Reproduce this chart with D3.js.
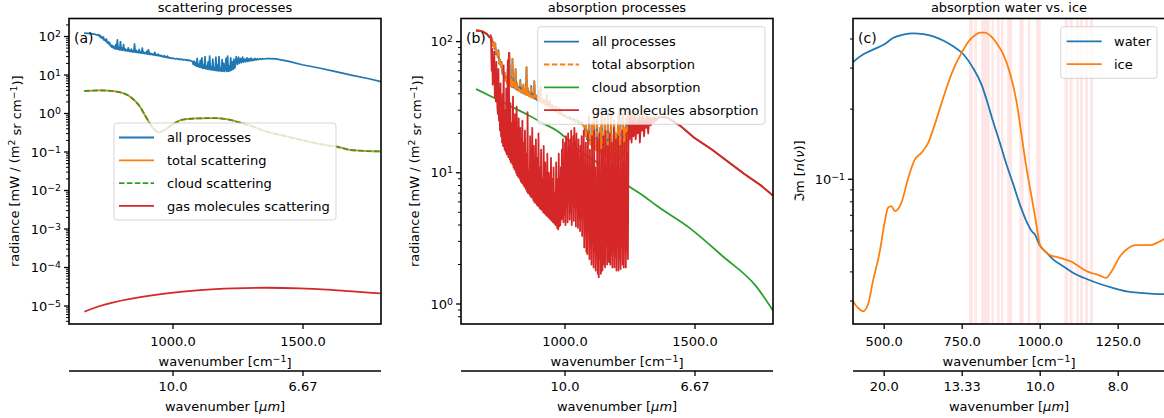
<!DOCTYPE html>
<html><head><meta charset="utf-8">
<script src="https://cdn.jsdelivr.net/npm/d3@7"></script>
<style>body{margin:0;background:#fff} text{font-family:"DejaVu Sans",sans-serif;fill:#000}</style>
</head><body><svg id="c" width="1164" height="418"></svg>
<script>
// ---------------- DATA ----------------
const allProcesses = [
[658,123],[670,121],[685,119],[700,114],[709,108],
[714,112],[717,100],[720,106],[723,93],[726,99],[729,88],[732,97],[735,80],[738,84],[741,76],[744,86],[747,68],[750,73],[753,64],[756,70],[759,57],[762,60],[765,53],[768,58],[771,50],[774,54],[777,48],[780,62],[783,47],[786,82],[789,46],[792,52],[795,45],[798,74],[801,44.5],[804,50],[807,44],[810,62],[813,43],[816,48],[819,42.5],[822,45],[825,42],[828,51],[831,41],[834,44],[837,40.5],[840,47],[843,40],[846,42],[849,39.5],[852,64],[855,39],[858,44],[861,38.5],[864,41],[867,38],[870,46],[873,37.5],[876,40],[879,37],[882,50],[885,36.5],[888,39],[891,36],[894,38],[897,35.5],[900,42],[903,35],[906,45],[909,34.5],[912,37],[915,34],[918,36],[921,33.5],[924,35],[927,33],[930,39],[933,32.5],[936,34],[939,32],[942,35],[945,31.5],[948,33],[951,31],[954,32.5],[957,30],[960,31],[963,29.5],[966,32],[969,29],[972,30],[975,28.5],[978,31],[981,28],[984,29],[987,27.5],[990,28],[995,27],[1000,27.5],[1005,26.5],[1010,26],[1015,26.8],[1020,25.5],[1025,26.2],[1030,25],[1035,25.8],[1040,24.5],[1045,25.2],[1050,24],[1055,24.8],[1060,23.5],[1065,24.2],[1070,23],[1075,22.5],
[1078,19],[1081,23],[1084,18],[1087,21],[1090,17],[1093,27],[1096,16.5],[1099,19],[1102,16],[1105,24],[1108,15.5],[1111,28],[1114,15],[1117,18],[1120,14.8],[1123,30],[1126,14.5],[1129,17],[1132,14.2],[1135,22],[1138,14],[1141,31],[1144,13.8],[1147,16],[1150,13.5],[1153,26],[1156,13.3],[1159,15],[1162,13.2],[1165,29],[1168,13],[1171,18],[1174,12.8],[1177,30],[1180,12.7],[1183,15],[1186,12.6],[1189,25],[1192,12.5],[1195,20],[1198,12.4],[1201,14],[1204,27],[1207,12.3],[1210,31],[1213,12.5],[1216,17],[1219,12.8],[1222,28],[1225,13.3],[1228,22],[1231,14],[1234,26],[1237,15],[1240,18],[1243,30],
[1248,19],[1252,29],[1256,20],[1260,27],[1264,21],[1268,29],[1272,21.5],[1276,26],[1280,22],[1284,28],[1288,22.5],[1292,26.5],[1296,23],[1300,27.5],[1304,23.5],[1308,26],[1312,24],[1316,27],[1320,24.5],[1325,26.5],[1330,25],[1335,26.5],[1340,25.5],[1345,26.5],[1350,26],[1360,26.8],[1370,26.6],
[1395,26.3],[1446,22.6],[1497,18.5],[1562,15.2],[1626,12.2],[1690,9.8],[1754,8.0],[1800,6.7]];

const cloudScattering = [[659,3.84],[719,4.0],[783,3.69],[835,2.74],[873,1.50],[899,0.75],[924,0.41],[947,0.324],[976,0.41],[1001,0.53],[1033,0.68],[1053,0.72],[1104,0.75],[1155,0.76],[1206,0.71],[1258,0.58],[1309,0.455],[1360,0.337],[1420,0.27],[1480,0.215],[1540,0.175],[1590,0.15],[1630,0.137],[1681,0.113],[1745,0.106],[1796,0.104]];
const totalScattering = cloudScattering;
const gasScattering = [[659,7.1e-6],[719,1.0e-5],[847,1.58e-5],[976,2.14e-5],[1104,2.6e-5],[1232,2.88e-5],[1360,2.98e-5],[1488,2.88e-5],[1617,2.6e-5],[1796,2.14e-5]];

const totalAbsorption = allProcesses;
const cloudAbsorption = [[658,43.5],[728,37.2],[792,32.1],[856,27.7],[920,23.6],[972,20.7],[1010,17.9],[1049,15.0],[1087,13.3],[1126,11.9],[1177,9.95],[1241,8.0],[1305,6.6],[1353,5.6],[1481,3.77],[1609,2.29],[1737,1.35],[1800,0.89]];
const gasAbsorption = [
[658,120],[670,121],[685,119],[700,114],[709,108],[714,110],
[716,98],[718,60],[720,88],[722,47],[724,72],[726,52],[728,84],[730,38],[732,55],[734,35],[736,70],[738,44],[740,31],[742,28],[744,62],[746,25],[748,36],[750,21],[752,48],[754,19],[756,24],[758,17],[760,40],[762,16],[764,66],[766,18],[768,15],[770,30],[772,14.5],[774,44],[776,13.8],[778,20],[780,72],[782,13.2],[784,82],[786,16],[788,12.6],[790,34],[792,12],[794,24],[796,13],[798,11.6],[800,38],[802,11],[804,18],[806,10.6],[808,28],[810,12.5],[812,10],[814,32],[816,9.6],[818,15],[820,9.3],[822,26],[824,11],[826,9],[828,22],[830,8.6],[832,13],[834,8.4],[836,25],[838,10],[840,8.1],[842,17],[844,7.8],[846,21],[848,9],[850,7.5],[852,14],[854,7.2],[856,29],[858,7.0],[860,10.5],[862,8.5],[864,6.8],[866,19],[868,6.6],[870,12],[872,6.5],[874,22],[876,8],[878,6.2],[880,16],[882,6.0],[884,9.5],[886,5.9],[888,18],[890,7],[892,5.7],[894,13],[896,5.6],[898,20],[900,6.5],[902,5.4],[904,11],[906,5.3],[908,15],[910,7.5],[912,5.2],[914,9],[916,5.0],[918,16],[920,6],[922,4.9],[924,12],[926,4.8],[928,8],[930,4.7],[932,14],[934,5.8],[936,4.6],[938,10],[940,4.5],[942,6.5],[944,4.4],[946,13],[948,5.2],[950,4.3],[952,9],[954,4.2],[956,11],[958,4.8],[960,4.1],[962,7],[964,4.0],[966,12],[968,5],[970,3.8],[972,9],[974,3.7],[976,14],[978,3.9],[980,6],[982,4.0],[984,11],[986,4.4],[988,15],
[990,4.5],[992,18],[994,4.2],[996,12],[998,4.8],[1000,17],[1002,4.0],[1004,19],[1006,5.5],[1008,14],[1010,4.2],[1012,20],[1014,6],[1016,16],[1018,4.4],[1020,18],[1022,5],[1024,21],[1026,4.0],[1028,15],[1030,7],[1032,19],[1034,4.3],[1036,22],[1038,5.5],[1040,17],[1042,3.9],[1044,20],[1046,6],[1048,14],[1050,3.8],[1052,18],[1054,4.5],[1056,13],[1058,3.6],[1060,16],
[1062,4.5],[1064,19],[1066,3.3],[1068,12],[1070,5],[1072,21],[1074,2.7],[1076,8],[1078,3.5],[1080,17],[1082,2.5],[1084,6],[1086,2.4],[1088,20],[1090,4],[1092,10],[1094,2.2],[1096,15],[1098,2.8],[1100,5],[1102,2.0],[1104,19],[1106,3],[1108,7],[1110,1.9],[1112,21],[1114,2.5],[1116,11],[1118,1.8],[1120,4],[1122,2.6],[1124,18],[1126,1.7],[1128,6],[1130,1.6],[1132,20],[1134,2.2],[1136,9],[1138,1.7],[1140,15],[1142,3.5],[1144,1.8],[1146,12],[1148,19],[1150,2.0],[1152,5],[1154,1.9],[1156,21],[1158,2.8],[1160,8],[1162,2.0],[1164,16],[1166,3.2],[1168,2.1],[1170,10],[1172,20],[1174,2.0],[1176,6],[1178,2.4],[1180,17],[1182,1.9],[1184,4.5],[1186,2.6],[1188,22],[1190,1.9],[1192,7],[1194,2.3],[1196,18],[1198,1.8],[1200,9],[1202,3],[1204,19],[1206,1.8],[1208,5],[1210,2.2],[1212,16],[1214,1.85],[1216,8],[1218,2.7],[1220,21],[1222,2.0],[1224,12],[1226,1.9],[1228,17],[1230,3.5],[1232,6],[1234,1.9],[1236,20],[1238,2.5],[1240,14],[1242,2.2],[1244,19],
[1246,24],[1248,18],[1252,27],[1256,17],[1260,25],[1264,19],[1268,27],[1272,18],[1276,24],[1280,20],[1284,26],[1288,17],[1292,25],[1296,21],[1300,26],[1304,19],[1308,25],[1312,22],[1316,26],[1320,20],[1325,26],[1330,23],[1335,26],[1340,24],[1345,26],[1350,25],[1360,26.5],[1370,26.5],
[1395,26.3],[1446,22.6],[1497,18.5],[1562,15.2],[1626,12.2],[1690,9.8],[1754,8.0],[1800,6.7]];

const water = [[400,0.3186],[432,0.343],[464,0.360],[502,0.381],[528,0.404],[561,0.4175],[593,0.423],[625,0.420],[657,0.411],[689,0.394],[721,0.372],[753,0.345],[785,0.300],[812,0.255],[828,0.220],[849,0.177],[871,0.143],[892,0.1156],[914,0.0948],[935,0.0778],[956,0.066],[973,0.0598],[983,0.0579],[999,0.0519],[1021,0.0483],[1042,0.0452],[1074,0.0423],[1106,0.0396],[1149,0.0373],[1192,0.0355],[1235,0.0341],[1277,0.033],[1320,0.0325],[1363,0.0322],[1400,0.0321]];
const ice = [[400,0.02995],[416,0.028],[432,0.0271],[448,0.029],[464,0.0365],[486,0.0491],[502,0.066],[512,0.0753],[523,0.0766],[534,0.0729],[555,0.0791],[577,0.1013],[598,0.1214],[619,0.1297],[641,0.1431],[662,0.1716],[684,0.2126],[705,0.2591],[726,0.3053],[748,0.3484],[769,0.3884],[791,0.4148],[807,0.4258],[823,0.4258],[839,0.4148],[860,0.3846],[882,0.3428],[903,0.2859],[924,0.2161],[940,0.1554],[956,0.1118],[973,0.0831],[986,0.066],[999,0.0524],[1015,0.0491],[1031,0.0472],[1063,0.046],[1101,0.0442],[1128,0.0419],[1154,0.04],[1181,0.039],[1197,0.0383],[1211,0.0377],[1229,0.0403],[1256,0.0467],[1283,0.0507],[1304,0.0521],[1352,0.0521],[1374,0.0533],[1400,0.0555]];
const bands = [[772,784],[789,797],[811,838],[844,851],[862,870],[874,882],[894,910],[933,947],[961,968],[987,1002],[1078,1089],[1094,1104],[1116,1124],[1128,1137],[1144,1153],[1160,1169]];

const xTicksAB = [1000, 1500], xLabelsAB = ["1000.0", "1500.0"], umLabelsAB = ["10.0", "6.67"];
const xTicksC = [500, 750, 1000, 1250], xLabelsC = ["500.0", "750.0", "1000.0", "1250.0"], umLabelsC = ["20.0", "13.33", "10.0", "8.0"];
const titles = ["scattering processes", "absorption processes", "absorption water vs. ice"];

// ---------------- DRAW ----------------
const svg = d3.select("#c");
const COL = {blue:"#1f77b4", orange:"#ff7f0e", green:"#2ca02c", red:"#d62728"};
const FS = 13;
const MID = 4.6;

function sup(textSel, parts) {
  let raised = false;
  parts.forEach(([s, m]) => {
    const t = textSel.append("tspan").text(s);
    if (m === "s" && !raised) { t.attr("dy", "-0.42em").attr("font-size", FS * 0.72); raised = true; }
    else if (m === "s") { t.attr("font-size", FS * 0.72); }
    else if (raised) { t.attr("dy", "0.42em"); raised = false; }
    if (m === "i") t.attr("font-style", "italic");
  });
}

function panel(cfg) {
  const x = d3.scaleLinear().domain(cfg.xd).range([cfg.l, cfg.r]);
  const y = d3.scaleLog().domain(cfg.yd).range([cfg.b, cfg.t]);
  const id = "clip" + cfg.id;
  svg.append("clipPath").attr("id", id).append("rect")
    .attr("x", cfg.l).attr("y", cfg.t).attr("width", cfg.r - cfg.l).attr("height", cfg.b - cfg.t);
  const plot = svg.append("g").attr("clip-path", `url(#${id})`);
  return {x, y, plot, cfg};
}

function drawLine(P, data, color, opts = {}) {
  const line = d3.line().x(d => P.x(d[0])).y(d => P.y(d[1]));
  if (opts.smooth) line.curve(d3.curveMonotoneX);
  P.plot.append("path").datum(data).attr("d", line).attr("fill", "none")
    .attr("stroke", color).attr("stroke-width", opts.w || 1.8)
    .attr("stroke-dasharray", opts.dash || null).attr("stroke-linejoin", "round");
}

function frame(P, o) {
  const c = P.cfg;
  const g = svg.append("g");
  const [y0, y1] = P.y.domain();
  const k0 = Math.floor(Math.log10(y0)), k1 = Math.ceil(Math.log10(y1));
  for (let k = k0; k <= k1; k++) {
    for (let m = 1; m <= 9; m++) {
      const v = m * Math.pow(10, k);
      if (v < y0 || v > y1) continue;
      const yy = P.y(v);
      const L = m === 1 ? 5 : 3;
      g.append("line").attr("x1", c.l - L).attr("x2", c.l).attr("y1", yy).attr("y2", yy)
        .attr("stroke", "#000").attr("stroke-width", m === 1 ? 1.3 : 1.0);
      if (m === 1 && (!o.yLabelOnly || o.yLabelOnly.includes(k))) {
        const t = g.append("text").attr("x", c.l - 8).attr("y", yy + MID)
          .attr("text-anchor", "end").attr("font-size", FS);
        sup(t, [["10", "n"], [k < 0 ? "\u2212" + (-k) : String(k), "s"]]);
      }
    }
  }
  o.xt.forEach((v, i) => {
    const xx = P.x(v);
    g.append("line").attr("x1", xx).attr("x2", xx).attr("y1", c.b).attr("y2", c.b + 5)
      .attr("stroke", "#000").attr("stroke-width", 1.3);
    g.append("text").attr("x", xx).attr("y", 341 + MID).attr("text-anchor", "middle")
      .attr("font-size", FS).text(o.xl[i]);
  });
  const xl = g.append("text").attr("x", (c.l + c.r) / 2).attr("y", 366).attr("text-anchor", "middle").attr("font-size", FS);
  sup(xl, [["wavenumber [cm", "n"], ["\u22121", "s"], ["]", "n"]]);
  g.append("line").attr("x1", c.l).attr("x2", c.r).attr("y1", 371).attr("y2", 371)
    .attr("stroke", "#000").attr("stroke-width", 1.5);
  o.xt.forEach((v, i) => {
    const xx = P.x(v);
    g.append("line").attr("x1", xx).attr("x2", xx).attr("y1", 371).attr("y2", 376)
      .attr("stroke", "#000").attr("stroke-width", 1.3);
    g.append("text").attr("x", xx).attr("y", 386 + MID).attr("text-anchor", "middle")
      .attr("font-size", FS).text(o.ul[i]);
  });
  const ul = g.append("text").attr("x", (c.l + c.r) / 2).attr("y", 410.5).attr("text-anchor", "middle").attr("font-size", FS);
  sup(ul, [["wavenumber [", "n"], ["\u03bcm", "i"], ["]", "n"]]);
  g.append("rect").attr("x", c.l).attr("y", c.t).attr("width", c.r - c.l).attr("height", c.b - c.t)
    .attr("fill", "none").attr("stroke", "#000").attr("stroke-width", 1.6);
  g.append("text").attr("x", (c.l + c.r) / 2).attr("y", 12).attr("text-anchor", "middle")
    .attr("font-size", FS).text(o.title);
  g.append("text").attr("x", c.l + 5).attr("y", 42.5).attr("font-size", 14).text(o.tag);
  const yl = g.append("text").attr("transform", `translate(${o.ylx},${(c.t + c.b) / 2}) rotate(-90)`)
    .attr("text-anchor", "middle").attr("font-size", FS);
  sup(yl, o.ylab);
}

function legend(box, items) {
  const g = svg.append("g");
  g.append("rect").attr("x", box.x).attr("y", box.y).attr("width", box.w).attr("height", box.h)
    .attr("rx", 3).attr("fill", "#fff").attr("fill-opacity", 0.8)
    .attr("stroke", "#ccc").attr("stroke-opacity", 0.8).attr("stroke-width", 1);
  items.forEach((it, i) => {
    const cy = box.y0 + i * box.dy;
    g.append("line").attr("x1", box.lx).attr("x2", box.lx + 35).attr("y1", cy).attr("y2", cy)
      .attr("stroke", it.c).attr("stroke-width", 1.8).attr("stroke-dasharray", it.dash || null);
    g.append("text").attr("x", box.tx).attr("y", cy + MID).attr("font-size", FS).text(it.t);
  });
}

const radianceLabel = [["radiance [mW / (m", "n"], ["2", "s"], [" sr cm", "n"], ["\u22121", "s"], [")]", "n"]];

// Panel A
const A = panel({id: "a", xd: [600, 1800], yd: [3.41e-6, 293.5], l: 69, r: 381, t: 18.5, b: 324});
drawLine(A, allProcesses, COL.blue, {w: 1.7});
drawLine(A, totalScattering, COL.orange, {smooth: true});
drawLine(A, cloudScattering, COL.green, {smooth: true, dash: "5.5,2.4"});
drawLine(A, gasScattering, COL.red, {smooth: true});
frame(A, {xt: xTicksAB, xl: xLabelsAB, ul: umLabelsAB, title: titles[0], tag: "(a)", ylx: 19, ylab: radianceLabel});
legend({x: 114, y: 123, w: 222, h: 97, y0: 137.5, dy: 22.8, lx: 119, tx: 167}, [
  {t: "all processes", c: COL.blue}, {t: "total scattering", c: COL.orange},
  {t: "cloud scattering", c: COL.green, dash: "5.5,2.4"}, {t: "gas molecules scattering", c: COL.red}]);

// Panel B
const B = panel({id: "b", xd: [600, 1800], yd: [0.704, 150], l: 461, r: 773, t: 18.5, b: 324});
drawLine(B, allProcesses, COL.blue, {w: 1.7});
drawLine(B, totalAbsorption, COL.orange, {dash: "5.5,2.4"});
drawLine(B, cloudAbsorption, COL.green, {smooth: true});
drawLine(B, gasAbsorption, COL.red);
frame(B, {xt: xTicksAB, xl: xLabelsAB, ul: umLabelsAB, title: titles[1], tag: "(b)", ylx: 419, ylab: radianceLabel});
legend({x: 537.7, y: 26.7, w: 227.3, h: 97.6, y0: 41.7, dy: 22.8, lx: 544, tx: 591.7}, [
  {t: "all processes", c: COL.blue}, {t: "total absorption", c: COL.orange, dash: "5.5,2.4"},
  {t: "cloud absorption", c: COL.green}, {t: "gas molecules absorption", c: COL.red}]);

// Panel C
const Cp = panel({id: "c", xd: [400, 1400], yd: [0.0239, 0.49], l: 853, r: 1165, t: 18.5, b: 324});
Cp.plot.selectAll("rect.band").data(bands).enter().append("rect").attr("class", "band")
  .attr("x", d => Cp.x(d[0])).attr("width", d => Cp.x(d[1]) - Cp.x(d[0]))
  .attr("y", 18.5).attr("height", 324 - 18.5).attr("fill", "red").attr("fill-opacity", 0.1);
drawLine(Cp, water, COL.blue, {smooth: true});
drawLine(Cp, ice, COL.orange, {smooth: true});
frame(Cp, {xt: xTicksC, xl: xLabelsC, ul: umLabelsC, title: titles[2], tag: "(c)", ylx: 803.5, yLabelOnly: [-1],
  ylab: [["\u2111m [", "n"], ["n", "i"], ["(", "n"], ["\u03bd", "i"], [")]", "n"]]});
legend({x: 1060.7, y: 26.7, w: 96.3, h: 51.6, y0: 41.3, dy: 22.8, lx: 1066.7, tx: 1114}, [
  {t: "water", c: COL.blue}, {t: "ice", c: COL.orange}]);
</script></body></html>
